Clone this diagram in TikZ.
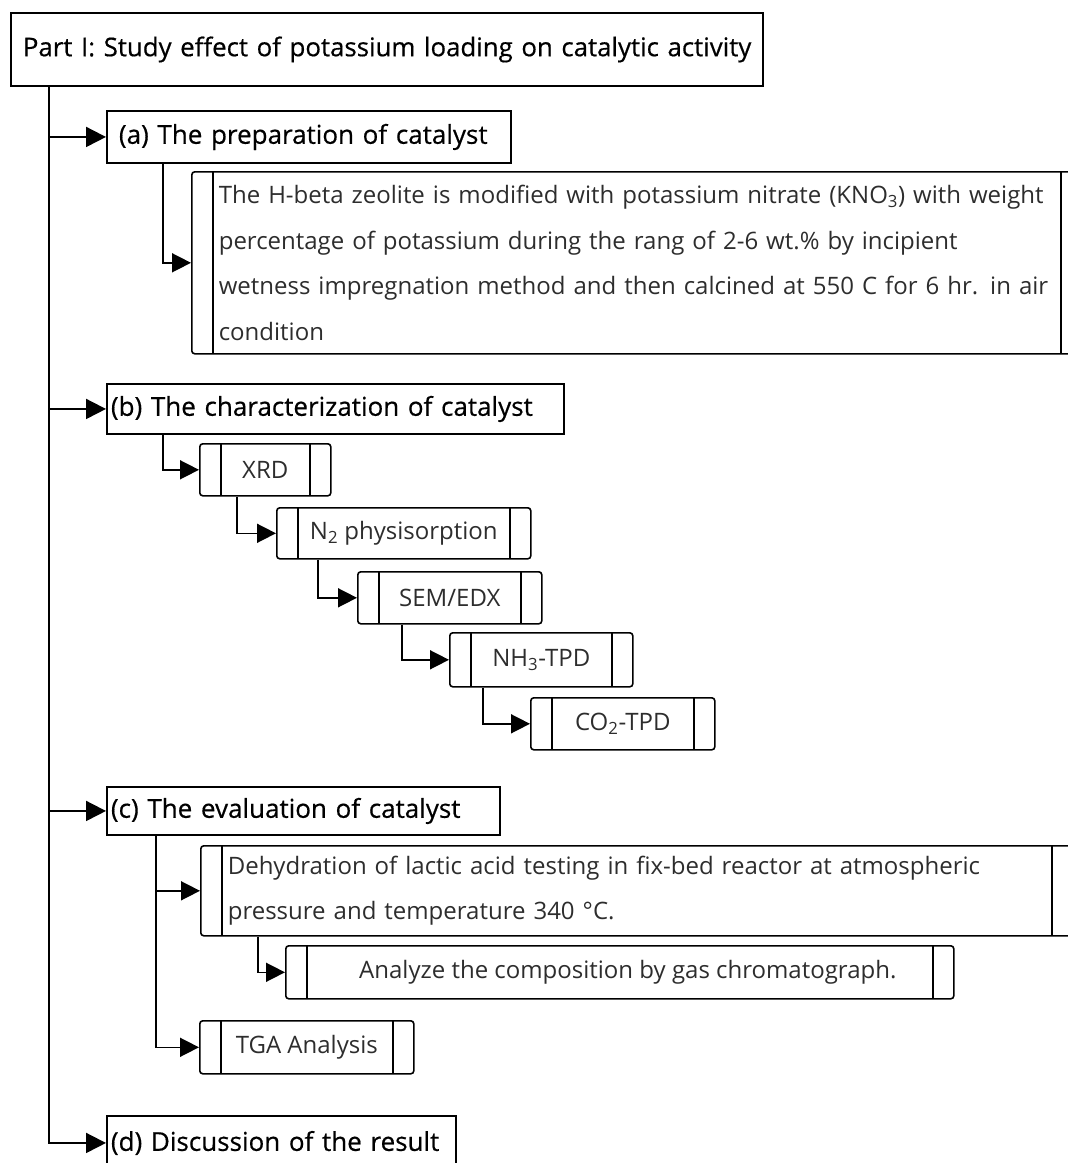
\documentclass[tikz,border=0pt]{standalone}
\usepackage{fontspec}
\setmainfont{Open Sans}
\newfontfamily\headfont{Open Sans}[FakeBold=0.5]
\usetikzlibrary{arrows.meta,calc}
\definecolor{bodytext}{RGB}{45,45,45}
\begin{document}
\begin{tikzpicture}[x=1pt,y=-1pt,
  every node/.style={font=\fontsize{24}{45.5}\selectfont, inner sep=0pt, anchor=north west},
  head/.style={draw, line width=1.9pt, inner xsep=#1, align=left, font=\headfont\fontsize{26}{30}\selectfont},
  head/.default=10pt,
  proc/.style={draw, line width=1.6pt, rounded corners=3pt, text=bodytext,
    path picture={\draw[line width=1.5pt]
      ([xshift=21pt]path picture bounding box.north west) -- ([xshift=21pt]path picture bounding box.south west)
      ([xshift=-21pt]path picture bounding box.north east) -- ([xshift=-21pt]path picture bounding box.south east);}},
  conn/.style={line width=1.6pt, -{Triangle[length=19pt,width=19pt]}},
  trunk/.style={line width=1.9pt, -{Triangle[length=20pt,width=20pt]}}]
\useasboundingbox (0,0) rectangle (1068,1163);
\clip (0,0) rectangle (1068,1163);

% headings
\node[head=12pt, minimum width=752pt, minimum height=73pt, text width=728pt,
  font=\headfont\fontsize{25.8}{30}\selectfont] (part) at (10,12)
  {\mbox{Part I: Study effect of potassium loading on catalytic activity}};
\node[head=12pt, minimum width=404pt, minimum height=52pt, text width=380pt] (a) at (106,110)
  {\mbox{(a) The preparation of catalyst}};
\node[head=4pt, minimum width=457pt, minimum height=50pt, text width=449pt] (b) at (106,383)
  {\mbox{(b) The characterization of catalyst}};
\node[head=4pt, minimum width=393pt, minimum height=48pt, text width=385pt] (c) at (106,786)
  {\mbox{(c) The evaluation of catalyst}};
\node[head=4pt, minimum width=349pt, minimum height=54pt, text width=341pt] (d) at (106,1115)
  {\mbox{(d) Discussion of the result}};

% (a) detail
\node[proc, minimum width=890pt, minimum height=182pt, text width=836pt, align=left] (det) at (191,171)
  {\mbox{The H-beta zeolite is modified with potassium nitrate (KNO\textsubscript{3}) with weight}\\
   \mbox{percentage of potassium during the rang of 2-6 wt.\% by incipient}\\
   \mbox{wetness impregnation method and then calcined at 550 C for 6 hr. in air}\\
   \mbox{condition}};

% (b) characterization
\node[proc, minimum width=131pt, minimum height=52pt] (xrd) at (199,443) {XRD};
\node[proc, minimum width=254pt, minimum height=51pt] (n2) at (276,507) {N\textsubscript{2} physisorption};
\node[proc, minimum width=184pt, minimum height=52pt] (sem) at (357,571) {SEM/EDX};
\node[proc, minimum width=183pt, minimum height=54pt] (nh3) at (449,632) {NH\textsubscript{3}-TPD};
\node[proc, minimum width=184pt, minimum height=52pt] (co2) at (530,697) {CO\textsubscript{2}-TPD};

% (c) evaluation
\node[proc, minimum width=872pt, minimum height=90pt, text width=818pt, align=left] (dehy) at (200,845)
  {\mbox{Dehydration of lactic acid testing in fix-bed reactor at atmospheric}\\
   \mbox{pressure and temperature 340 °C.}};
\node[proc, minimum width=668pt, minimum height=53pt] (ana) at (285,945)
  {\hspace*{16pt}Analyze the composition by gas chromatograph.};
\node[proc, minimum width=214pt, minimum height=53pt] (tga) at (199,1020) {TGA Analysis};

% trunk connectors
\coordinate (t) at ([xshift=39pt]part.south west);
\draw[trunk] (t) |- (a.west);
\draw[trunk] (t) |- (b.west);
\draw[trunk] (t) |- (c.west);
\draw[trunk] (t) |- (d.west);

% sub connectors
\draw[conn] ([xshift=57pt]a.south west) |- (det.west);
\draw[conn] ([xshift=57pt]b.south west) |- (xrd.west);
\draw[conn] ([xshift=38pt]xrd.south west) |- (n2.west);
\draw[conn] ([xshift=42pt]n2.south west) |- (sem.west);
\draw[conn] ([xshift=45pt]sem.south west) |- (nh3.west);
\draw[conn] ([xshift=34pt]nh3.south west) |- (co2.west);
\draw[conn] ([xshift=50pt]c.south west) |- (dehy.west);
\draw[conn] ([xshift=50pt]c.south west) |- (tga.west);
\draw[conn] ([xshift=58pt]dehy.south west) |- (ana.west);
\end{tikzpicture}
\end{document}
